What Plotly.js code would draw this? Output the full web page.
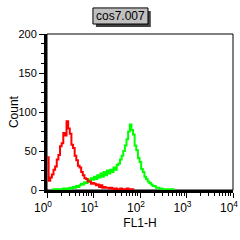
<!DOCTYPE html>
<html>
<head>
<meta charset="utf-8">
<script src="https://cdn.plot.ly/plotly-3.0.1.min.js"></script>
<style>html,body{margin:0;padding:0;background:#fff;}#chart{width:240px;height:240px;}</style>
</head>
<body>
<div id="chart"></div>
<script>
// Histogram channels on a log scale (decade exponents of the first bin and bin step)
const redLogStart = 0.0;
const greenLogStart = 0.1;
const binLogStep = 0.035;

// Counts per bin
const redCounts = [42, 12, 16, 20, 26, 30, 39, 45, 56, 60, 73, 70, 88, 79, 72, 58, 54, 44, 38, 31, 29, 23, 19, 15, 14, 11, 11, 8, 9, 8, 6, 7, 4, 6, 3, 4, 3, 3, 2, 3, 2, 1, 2, 1, 1, 2, 1, 0, 1, 2, 1, 0, 1, 0];
const greenCounts = [0, 1, 0, 1, 0, 1, 0, 2, 1, 2, 1, 3, 2, 4, 3, 5, 4, 6, 8, 7, 10, 9, 13, 11, 15, 13, 17, 14, 19, 16, 21, 17, 23, 19, 25, 21, 26, 23, 29, 26, 32, 34, 39, 44, 50, 57, 65, 75, 84, 77, 71, 57, 51, 41, 36, 27, 23, 17, 14, 11, 9, 7, 5, 5, 3, 3, 2, 2, 1, 1, 1, 0, 1, 0, 1, 0];

const sampleName = 'cos7.007';
const xTitle = 'FL1-H';
const yTitle = 'Count';
const xTickVals = [1, 10, 100, 1000, 10000];
const xTickText = ['10<sup>0</sup>', '10<sup>1</sup>', '10<sup>2</sup>', '10<sup>3</sup>', '10<sup>4</sup>'];
const yTickVals = [0, 50, 100, 150, 200];

function binX(start, n) {
  const out = [];
  for (let i = 0; i < n; i++) out.push(Math.pow(10, start + i * binLogStep));
  return out;
}
const minorX = [];
for (let d = 0; d < 4; d++) for (let k = 2; k <= 9; k++) minorX.push(k * Math.pow(10, d));

const traces = [
  {x: binX(greenLogStart, greenCounts.length), y: greenCounts, type: 'scatter', mode: 'lines',
   line: {color: '#00ff00', width: 2, shape: 'hv'}, hoverinfo: 'skip'},
  {x: binX(redLogStart, redCounts.length), y: redCounts, type: 'scatter', mode: 'lines',
   line: {color: '#ff0000', width: 2, shape: 'hv'}, hoverinfo: 'skip'}
];

const fam = 'Liberation Sans, Arial, sans-serif';

const layout = {
  width: 240, height: 240,
  margin: {l: 47, r: 7, t: 34, b: 50, pad: 0},
  paper_bgcolor: '#fff', plot_bgcolor: '#fff',
  showlegend: false,
  font: {family: fam, size: 11, color: '#000'},
  xaxis: {
    type: 'log', range: [0, 4], showgrid: false, zeroline: false,
    showline: true, linewidth: 3, linecolor: '#000', mirror: false,
    tickmode: 'array', tickvals: xTickVals, ticktext: xTickText,
    ticks: 'outside', ticklen: 5, tickwidth: 1, tickcolor: '#000',
    ticklabeloverflow: 'allow', ticklabelshift: -4,
    minor: {tickmode: 'array', tickvals: minorX, ticks: 'outside', ticklen: 3, tickwidth: 1, tickcolor: '#000', showgrid: false},
    tickfont: {family: fam, size: 12, color: '#000'},
    title: {text: xTitle, font: {family: fam, size: 12, color: '#000'}, standoff: 5}
  },
  yaxis: {
    range: [0, 200], showgrid: false, zeroline: false,
    showline: true, linewidth: 3, linecolor: '#000', mirror: false,
    tickmode: 'array', tickvals: yTickVals,
    ticks: 'outside', ticklen: 5, tickwidth: 1, tickcolor: '#000',
    minor: {dtick: 12.5, ticks: 'outside', ticklen: 3, tickwidth: 1, tickcolor: '#000', showgrid: false},
    tickfont: {family: fam, size: 11, color: '#000'}
  },
  shapes: [
    {type: 'rect', xref: 'paper', yref: 'paper', x0: 0, x1: 1, y0: 0, y1: 1, line: {color: '#000', width: 1}, layer: 'below'},
    {type: 'rect', xref: 'paper', yref: 'paper', x0: 0.263, x1: 0.558, y0: 1.045, y1: 1.148, fillcolor: '#404040', line: {width: 0}},
    {type: 'rect', xref: 'paper', yref: 'paper', x0: 0.247, x1: 0.543, y0: 1.064, y1: 1.167, fillcolor: '#c0c0c0', line: {color: '#000', width: 1}}
  ],
  annotations: [
    {text: sampleName, xref: 'paper', yref: 'paper', x: 0.395, y: 1.1155, xanchor: 'center', yanchor: 'middle',
     showarrow: false, font: {family: fam, size: 12, color: '#000'}},
    {text: yTitle, xref: 'paper', yref: 'paper', x: -0.177, y: 0.5, xanchor: 'center', yanchor: 'middle', textangle: -90,
     showarrow: false, font: {family: fam, size: 12, color: '#000'}}
  ]
};

Plotly.newPlot('chart', traces, layout, {staticPlot: true, displayModeBar: false});
</script>
</body>
</html>
